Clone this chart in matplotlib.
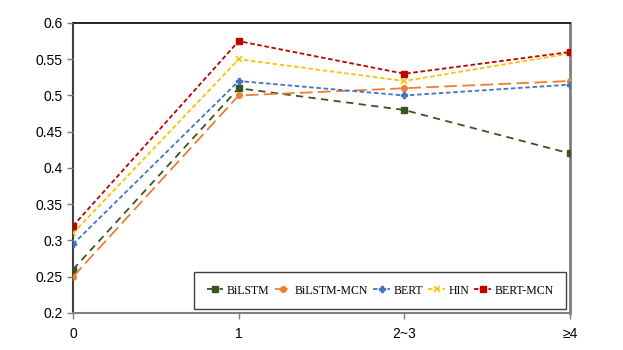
import matplotlib
matplotlib.use("Agg")
import matplotlib.pyplot as plt

categories = ["0", "1", "2~3", "≥4"]
bilstm = [0.26, 0.51, 0.48, 0.42]
bilstm_mcn = [0.25, 0.50, 0.51, 0.52]
bert = [0.295, 0.52, 0.50, 0.515]
hin = [0.31, 0.55, 0.52, 0.558]
bert_mcn = [0.32, 0.575, 0.53, 0.56]
y_ticks = [0.2, 0.25, 0.3, 0.35, 0.4, 0.45, 0.5, 0.55, 0.6]
y_labels = ["0.2", "0.25", "0.3", "0.35", "0.4", "0.45", "0.5", "0.55", "0.6"]

fig = plt.figure(figsize=(6.23, 3.5), dpi=100)
ax = fig.add_axes([73/623, 37/350, 497/623, 290/350])
x = list(range(len(categories)))

ax.plot(x, bilstm, color="#375623", ls=(0, (4, 3)), lw=1.3, marker="s", ms=4, label="BiLSTM")
ax.plot(x, bilstm_mcn, color="#ED7D31", ls=(0, (7, 3)), lw=1.3, marker="o", ms=4, label="BiLSTM-MCN")
ax.plot(x, bert, color="#4472C4", ls=(0, (2.5, 1.5)), lw=1.3, marker="P", ms=4, label="BERT")
ax.plot(x, hin, color="#FFC000", ls=(0, (2.5, 1.5)), lw=1.3, marker="x", ms=4, mew=1.1, label="HIN")
ax.plot(x, bert_mcn, color="#C00000", ls=(0, (2.5, 1.5)), lw=1.3, marker="s", ms=4, label="BERT-MCN")

ax.set_xlim(0, 3)
ax.set_ylim(0.2, 0.6)
ax.set_xticks(x)
ax.set_xticklabels(categories, family="Liberation Sans", fontsize=10)
ax.set_yticks(y_ticks)
ax.set_yticklabels(y_labels, family="Liberation Sans", fontsize=10)
ax.tick_params(axis="both", direction="out", length=4, color="#7f7f7f", width=1)
ax.tick_params(axis="x", pad=6)

ax.spines["top"].set_color("black")
ax.spines["top"].set_linewidth(1.2)
ax.spines["right"].set_color("#7f7f7f")
ax.spines["right"].set_linewidth(2)
ax.spines["left"].set_color("#404040")
ax.spines["left"].set_linewidth(1.5)
ax.spines["bottom"].set_color("#7f7f7f")
ax.spines["bottom"].set_linewidth(1.5)
for s in ax.spines.values():
    s.set_zorder(0)

leg = ax.legend(loc="lower right", ncol=5, prop={"family": "Liberation Serif", "size": 8.5},
                handlelength=1.4, handletextpad=0.3, columnspacing=0.45,
                fancybox=False, edgecolor="#404040", borderpad=1.05, framealpha=1,
                borderaxespad=0, bbox_to_anchor=(0.992, 0.014))
leg.get_frame().set_linewidth(1.0)

fig.savefig("out.png", dpi=100)
